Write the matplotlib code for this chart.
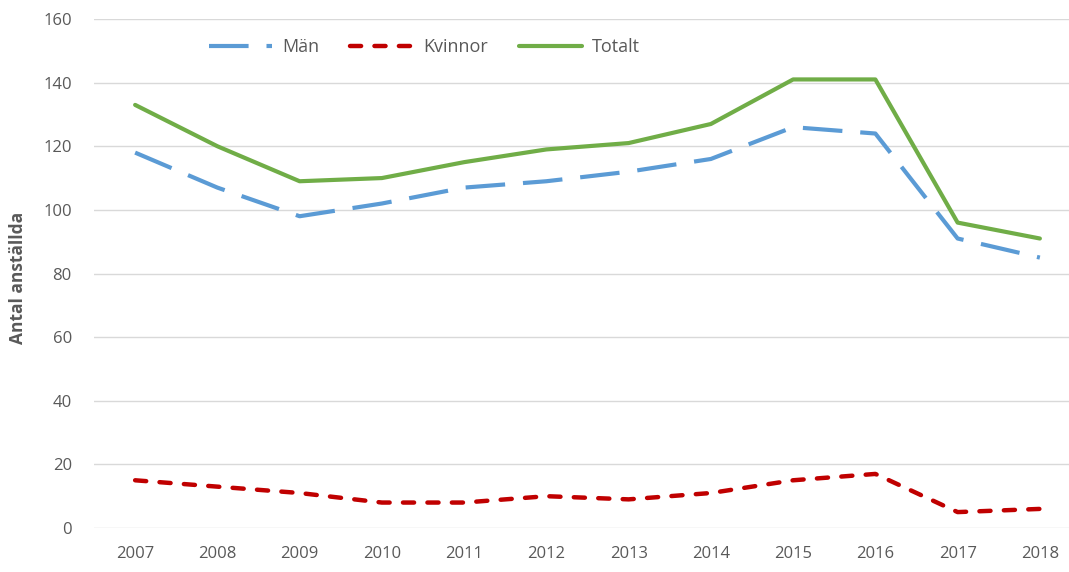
import matplotlib.pyplot as plt

# antal anställda per år
years = [2007, 2008, 2009, 2010, 2011, 2012, 2013, 2014, 2015, 2016, 2017, 2018]
man = [118, 107, 98, 102, 107, 109, 112, 116, 126, 124, 91, 85]
kvinnor = [15, 13, 11, 8, 8, 10, 9, 11, 15, 17, 5, 6]
totalt = [133, 120, 109, 110, 115, 119, 121, 127, 141, 141, 96, 91]

plt.rcParams['font.family'] = ['Open Sans', 'DejaVu Sans']
text_color = '#595959'

fig = plt.figure(figsize=(10.69, 5.72), dpi=100)
ax = fig.add_axes([94 / 1069, 1 - 528 / 572, (1081 - 94) / 1069, (528 - 19) / 572])

ax.plot(years, man, color='#5B9BD5', lw=3, linestyle=(0, (9.5, 4.3)),
        dash_capstyle='butt', label='Män')
ax.plot(years, kvinnor, color='#C00000', lw=3.2, linestyle=(0, (2.5, 3)),
        dash_capstyle='round', label='Kvinnor')
ax.plot(years, totalt, color='#70AD47', lw=3, solid_capstyle='round', label='Totalt')

ax.set_xlim(2006.5, 2018.5)
ax.set_ylim(0, 160)
ax.set_xticks(years)
ax.set_yticks(range(0, 161, 20))
ax.grid(axis='y', color='#D9D9D9', lw=1)
ax.set_axisbelow(True)
for s in ax.spines.values():
    s.set_visible(False)
ax.tick_params(length=0, labelsize=12, colors=text_color, pad=13)
ax.tick_params(axis='y', pad=16)

fig.text(18 / 1069, 1 - 278 / 572, 'Antal anställda', rotation=90, fontsize=12.5,
         fontweight='bold', color=text_color, ha='center', va='center')

leg = ax.legend(loc='center left', bbox_to_anchor=(193 / 1069, 1 - 47 / 572),
                bbox_transform=fig.transFigure, ncol=3, frameon=False,
                fontsize=13, handlelength=3.5, handletextpad=0.55,
                columnspacing=1.7)
for t in leg.get_texts():
    t.set_color(text_color)

fig.savefig('out.png', dpi=100)
